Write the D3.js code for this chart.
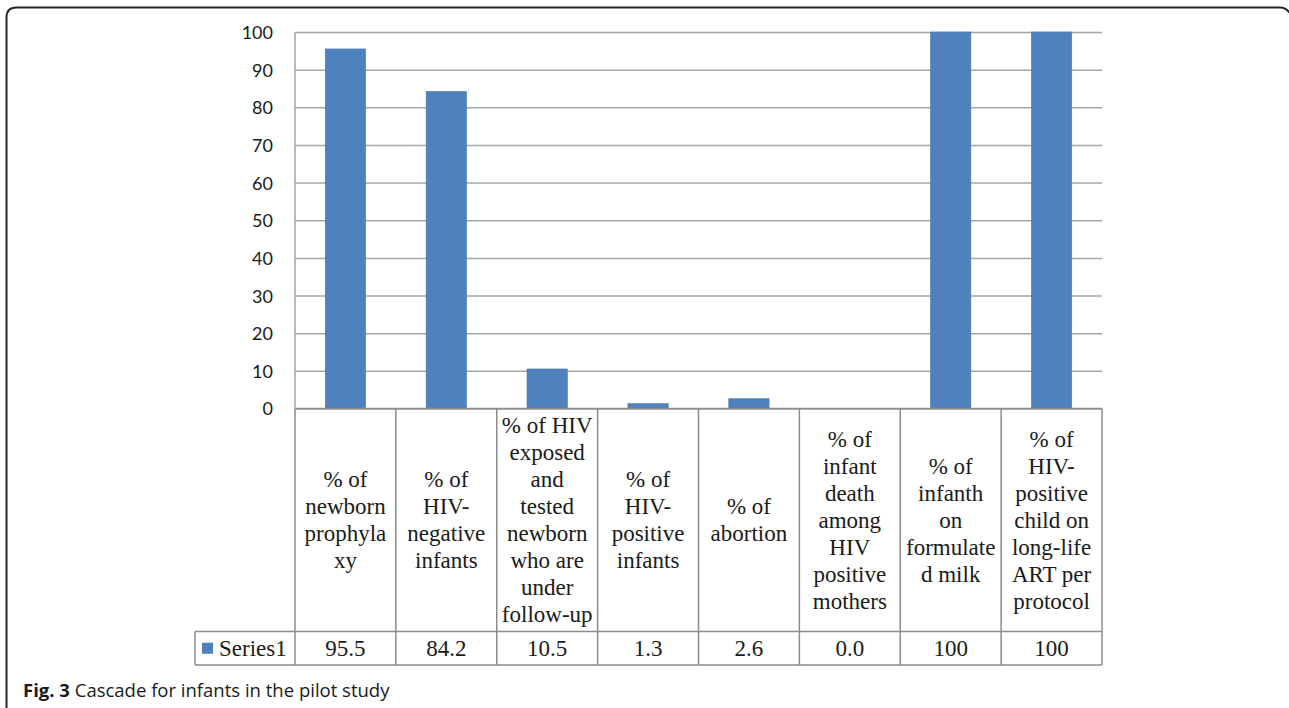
<!DOCTYPE html>
<html>
<head>
<meta charset="utf-8">
<script src="https://cdn.jsdelivr.net/npm/d3@7/dist/d3.min.js"></script>
<style>
  html, body { margin: 0; padding: 0; background: #fff; }
  svg { display: block; }
</style>
</head>
<body>
<svg id="chart" width="1289" height="708"></svg>
<script>
// Category labels, one entry per line as they wrap in the data table
const categories = [
  ["% of", "newborn", "prophyla", "xy"],
  ["% of", "HIV-", "negative", "infants"],
  ["% of HIV", "exposed", "and", "tested", "newborn", "who are", "under", "follow-up"],
  ["% of", "HIV-", "positive", "infants"],
  ["% of", "abortion"],
  ["% of", "infant", "death", "among", "HIV", "positive", "mothers"],
  ["% of", "infanth", "on", "formulate", "d milk"],
  ["% of", "HIV-", "positive", "child on", "long-life", "ART per", "protocol"]
];
const values = [95.5, 84.2, 10.5, 1.3, 2.6, 0.0, 100, 100];
const valueLabels = ["95.5", "84.2", "10.5", "1.3", "2.6", "0.0", "100", "100"];
const seriesName = "Series1";
const yTicks = [0, 10, 20, 30, 40, 50, 60, 70, 80, 90, 100];
const caption = { bold: "Fig. 3", text: " Cascade for infants in the pilot study" };

const svg = d3.select("#chart");
const W = 1289, H = 708;

const plot = { left: 295, right: 1102, top: 32, bottom: 408.5 };
const table = { labelBottom: 631.5, bottom: 665, legendLeft: 195 };

const barColor = "#4f81bd";
const gridColor = "#a6a6a6";
const tableColor = "#8c8c8c";
const serif = "'Liberation Serif', 'Times New Roman', serif";
const tableFont = "23px";

const x = d3.scaleBand()
  .domain(d3.range(values.length))
  .range([plot.left, plot.right])
  .paddingInner(0).paddingOuter(0);

const y = d3.scaleLinear().domain([0, 100]).range([plot.bottom, plot.top]);

// Outer figure frame with rounded top corners
svg.append("path")
  .attr("d", `M6.5,${H + 5} V17.5 Q6.5,7.5 16.5,7.5 H1280 Q1287,7.5 1291,15`)
  .attr("fill", "none")
  .attr("stroke", "#262626")
  .attr("stroke-width", 2);

// Horizontal gridlines
const yAxis = d3.axisLeft(y)
  .tickValues(yTicks)
  .tickSize(-(plot.right - plot.left))
  .tickPadding(22)
  .tickFormat(d3.format("d"));

const gAxis = svg.append("g")
  .attr("transform", `translate(${plot.left},0)`)
  .call(yAxis);
gAxis.select(".domain").remove();
gAxis.selectAll(".tick line")
  .attr("stroke", gridColor)
  .attr("stroke-width", 1.5);
gAxis.selectAll(".tick text")
  .attr("fill", "#1a1a1a")
  .attr("font-family", "Lato, 'Open Sans', sans-serif")
  .attr("font-size", "18px")
  .attr("dy", "0.36em");

// Vertical axis line
svg.append("line")
  .attr("x1", plot.left).attr("x2", plot.left)
  .attr("y1", plot.top).attr("y2", plot.bottom)
  .attr("stroke", gridColor).attr("stroke-width", 1.5);

// Bars
const barW = x.bandwidth() * 0.4;
svg.append("g").selectAll("rect")
  .data(values)
  .join("rect")
  .attr("x", (d, i) => x(i) + (x.bandwidth() - barW) / 2)
  .attr("y", d => y(d))
  .attr("width", barW)
  .attr("height", d => y(0) - y(d))
  .attr("fill", barColor)
  .attr("stroke", "#4a7ab3")
  .attr("stroke-width", 0.6);

// Data table grid
const tg = svg.append("g")
  .attr("stroke", tableColor)
  .attr("stroke-width", 1.5)
  .attr("fill", "none");

tg.append("line")
  .attr("x1", plot.left).attr("x2", plot.right)
  .attr("y1", plot.bottom).attr("y2", plot.bottom);
tg.append("line")
  .attr("x1", table.legendLeft).attr("x2", plot.right)
  .attr("y1", table.labelBottom).attr("y2", table.labelBottom);
tg.append("line")
  .attr("x1", table.legendLeft).attr("x2", plot.right)
  .attr("y1", table.bottom).attr("y2", table.bottom);
tg.append("line")
  .attr("x1", table.legendLeft).attr("x2", table.legendLeft)
  .attr("y1", table.labelBottom).attr("y2", table.bottom);
const colEdges = d3.range(values.length).map(i => x(i)).concat([plot.right]);
tg.selectAll("line.col")
  .data(colEdges)
  .join("line")
  .attr("class", "col")
  .attr("x1", d => d).attr("x2", d => d)
  .attr("y1", plot.bottom).attr("y2", table.bottom);

// Category labels, centred in each cell
const lineH = 27;
const cellMid = (plot.bottom + table.labelBottom) / 2;
const lg = svg.append("g")
  .attr("font-family", serif)
  .attr("font-size", tableFont)
  .attr("fill", "#1a1a1a")
  .attr("text-anchor", "middle");

categories.forEach((lines, i) => {
  const cx = x(i) + x.bandwidth() / 2;
  const startY = cellMid - (lines.length - 1) * lineH / 2;
  const t = lg.append("text");
  lines.forEach((ln, k) => {
    t.append("tspan")
      .attr("x", cx)
      .attr("y", startY + k * lineH)
      .attr("dy", "0.33em")
      .text(ln);
  });
});

// Value row
const rowMid = (table.labelBottom + table.bottom) / 2;
svg.append("g")
  .attr("font-family", serif)
  .attr("font-size", tableFont)
  .attr("fill", "#1a1a1a")
  .attr("text-anchor", "middle")
  .selectAll("text")
  .data(valueLabels)
  .join("text")
  .attr("x", (d, i) => x(i) + x.bandwidth() / 2)
  .attr("y", rowMid)
  .attr("dy", "0.33em")
  .text(d => d);

// Legend cell
svg.append("rect")
  .attr("x", 202).attr("y", rowMid - 5.5)
  .attr("width", 11).attr("height", 11)
  .attr("fill", barColor);
svg.append("text")
  .attr("x", 219).attr("y", rowMid)
  .attr("dy", "0.33em")
  .attr("font-family", serif)
  .attr("font-size", tableFont)
  .attr("fill", "#1a1a1a")
  .text(seriesName);

// Caption
const cap = svg.append("text")
  .attr("x", 23).attr("y", 697)
  .attr("font-family", "'Open Sans', 'Noto Sans', sans-serif")
  .attr("font-size", "18.5px")
  .attr("fill", "#1a1a1a");
cap.append("tspan").attr("font-weight", "bold").text(caption.bold);
cap.append("tspan").text(caption.text);
</script>
</body>
</html>
